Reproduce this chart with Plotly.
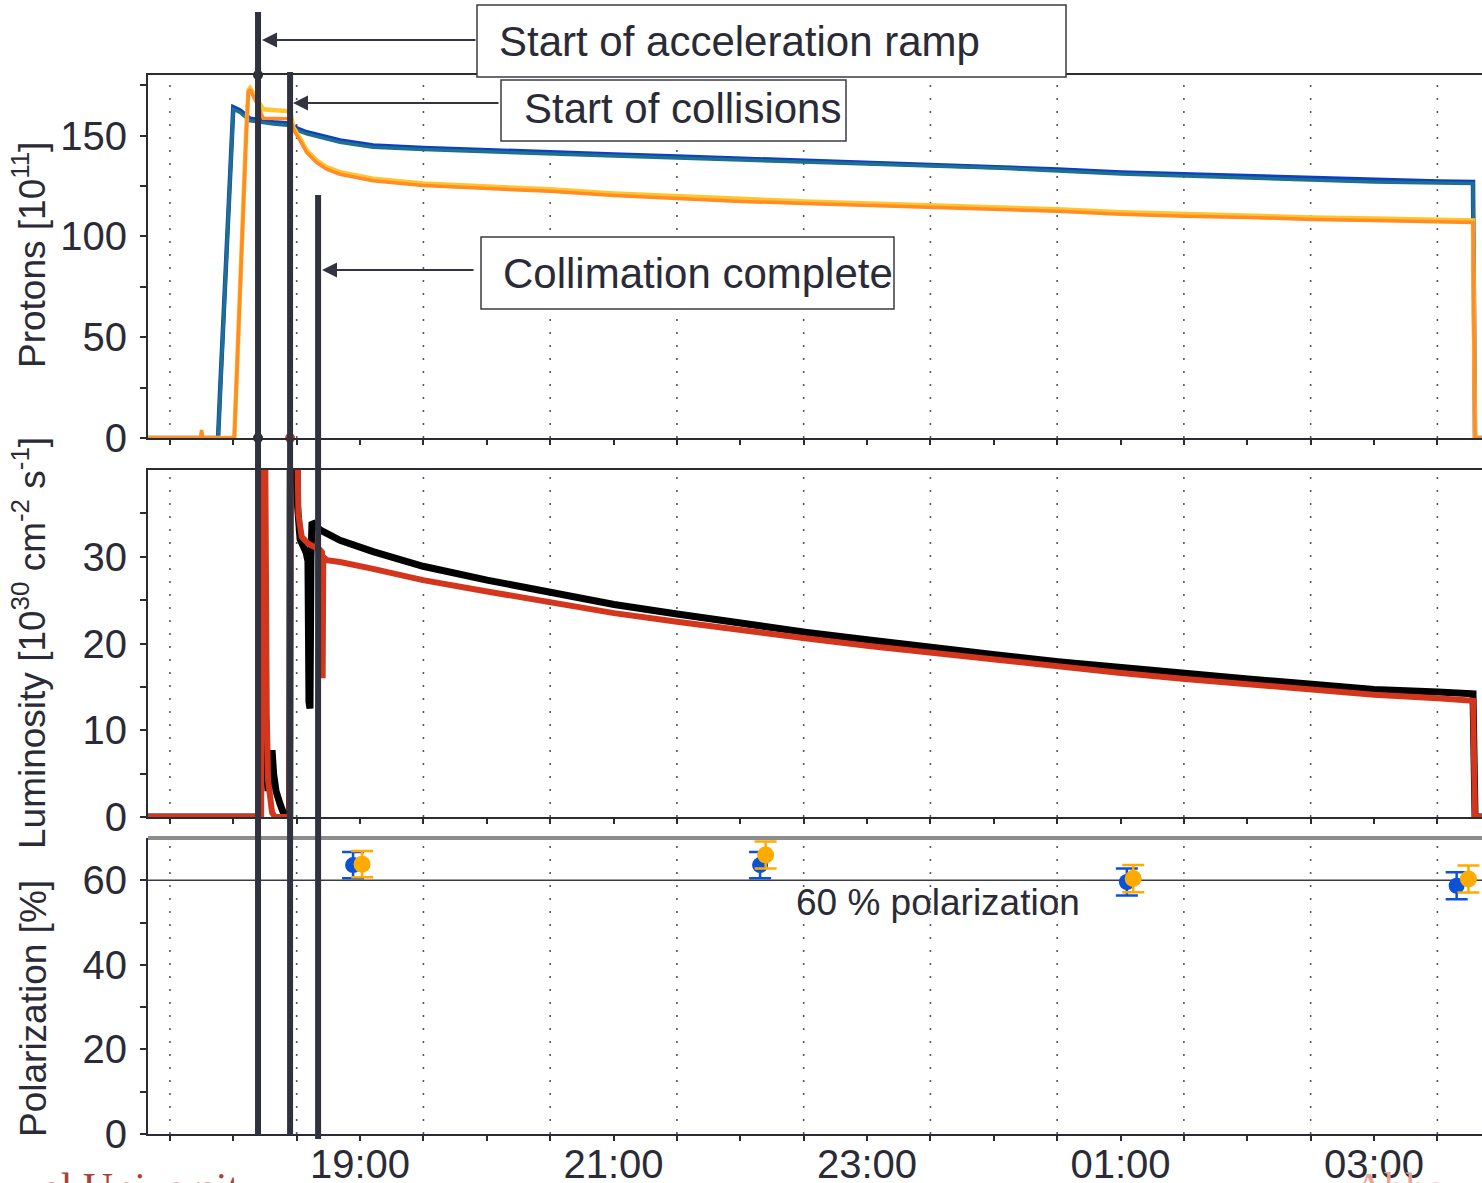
import plotly.graph_objects as go

# ---------------- data (time in decimal hours; >24 means after midnight) ----------------
t_blue = [17.327, 17.880, 17.895, 17.935, 17.961, 17.988, 18.000, 18.053, 18.132, 18.316,
          18.448, 18.500, 18.579, 18.842, 19.103, 19.497, 20.002, 20.499, 21.004, 21.501,
          22.006, 22.511, 23.016, 23.505, 24.010, 24.507, 25.004, 25.509, 26.006, 26.511,
          27.000, 27.505, 27.781, 27.797, 27.852]
prot_blue = [0, 0, 22, 72, 113, 149, 164, 162.4, 158.3, 156.6,
             155.8, 153.5, 151.6, 147.5, 145.0, 143.8, 142.6, 141.6, 140.6, 139.6,
             138.6, 137.6, 136.6, 135.6, 134.7, 133.2, 131.7, 130.7, 129.7, 128.7,
             127.7, 127.2, 127.0, 0, 0]
prot_teal = [0, 0, 20, 70, 111, 147, 163, 161.4, 157.3, 155.7,
             155.0, 152.6, 150.8, 146.7, 144.2, 143.0, 141.8, 140.8, 139.8, 138.8,
             137.8, 136.8, 135.8, 134.8, 133.9, 132.4, 130.9, 129.9, 128.9, 127.9,
             126.9, 126.4, 126.2, 0, 0]

t_orange = [17.327, 17.740, 17.750, 17.760, 18.008, 18.027, 18.053, 18.079, 18.101, 18.119,
            18.132, 18.185, 18.237, 18.448, 18.474, 18.527, 18.579, 18.658, 18.737, 18.842,
            18.974, 19.103, 19.497, 20.002, 20.499, 21.004, 21.501, 22.006, 22.511, 23.016,
            23.505, 24.010, 24.507, 25.004, 25.509, 26.006, 26.511, 27.000, 27.505, 27.781,
            27.797, 27.852]
prot_orange = [0, 0, 4, 0, 0, 30, 72, 121, 149, 171.4,
               172.8, 166, 158.5, 158.3, 153, 147.5, 141.6, 136.6, 133.3, 130.8,
               129.2, 127.6, 125.2, 123.8, 122.3, 120.3, 118.8, 117.3, 116.3, 115.3,
               114.4, 113.4, 112.4, 110.9, 109.9, 109.4, 108.4, 107.9, 107.4, 106.9,
               0, 0]
prot_yellow = [0, 0, 0, 0, 0, 31, 74, 123, 151, 172.5,
               173.5, 168, 163, 162, 154, 148.4, 142.6, 137.6, 134.3, 131.8,
               130.2, 128.6, 126.2, 124.8, 123.3, 121.3, 119.8, 118.3, 117.3, 116.3,
               115.4, 114.4, 113.4, 111.9, 110.9, 110.4, 109.4, 108.9, 108.4, 107.9,
               0, 0]

t_lumi_black = [17.327, 18.215, 18.219, 18.231, 18.239, 18.258, 18.274, 18.290, 18.306, 18.318,
                18.337, 18.369, 18.400, 18.424, 18.445, 18.450, 18.497, 18.506, 18.515, 18.527,
                18.574, 18.589, 18.597, 18.605, 18.613, 18.621, 18.684, 18.842, 19.103, 19.497,
                20.002, 20.499, 21.004, 21.501, 22.006, 22.511, 23.016, 23.505, 24.010, 24.507,
                25.004, 25.509, 26.006, 26.511, 27.000, 27.505, 27.781, 27.797, 27.852]
lumi_black = [0, 0, 45, 45, 12, 4, 3, 6, 7.7, 5,
              3, 1.5, 0.3, 0, 0, 50, 50, 36, 33, 32,
              30.5, 29.5, 13.3, 12.5, 30, 34, 33.1, 31.9, 30.6, 28.9,
              27.3, 25.9, 24.5, 23.4, 22.3, 21.3, 20.4, 19.5, 18.7, 17.9,
              17.2, 16.5, 15.9, 15.3, 14.7, 14.4, 14.2, 0, 0]

t_lumi_red = [17.327, 18.219, 18.227, 18.251, 18.264, 18.274, 18.306, 18.330, 18.445, 18.452,
              18.497, 18.504, 18.514, 18.540, 18.592, 18.684, 18.700, 18.705, 18.710, 18.737,
              18.842, 19.103, 19.497, 20.002, 20.499, 21.004, 21.501, 22.006, 22.511, 23.016,
              23.505, 24.010, 24.507, 25.004, 25.509, 26.006, 26.511, 27.000, 27.505, 27.781,
              27.797, 27.852]
lumi_red = [0, 0, 45, 45, 12, 4.3, 0.5, 0, 0, 50,
            50, 36, 34.8, 32.3, 31.5, 30.8, 30.5, 16, 30, 29.6,
            29.4, 28.6, 27.3, 26.0, 24.7, 23.5, 22.5, 21.5, 20.6, 19.7,
            18.9, 18.1, 17.3, 16.6, 15.9, 15.3, 14.7, 14.1, 13.7, 13.4,
            0, 0]

t_pol_blue = [18.945, 22.156, 25.050, 27.652]
pol_blue = [63.6, 63.6, 59.6, 58.7]
err_pol_blue = [3.1, 3.1, 3.2, 3.2]
t_pol_orange = [19.016, 22.200, 25.100, 27.745]
pol_orange = [63.8, 66.0, 60.4, 60.3]
err_pol_orange = [3.1, 3.2, 3.2, 3.2]

event_t = [18.195, 18.448, 18.669]          # acceleration ramp, collisions, collimation
event_labels = ["Start of acceleration ramp", "Start of collisions", "Collimation complete"]
pol_ref = 60
footer_left = "al University"
footer_right = "Abhay"

x_range = [17.327, 27.852]
half_hours = [17.5, 18.0, 18.5, 19.0, 19.5, 20.0, 20.5, 21.0, 21.5, 22.0, 22.5,
              23.0, 23.5, 24.0, 24.5, 25.0, 25.5, 26.0, 26.5, 27.0, 27.5]
grid_t = [17.5, 18.5, 19.5, 20.5, 21.5, 22.5, 23.5, 24.5, 25.5, 26.5, 27.5]
time_labels = {19.0: "19:00", 21.0: "21:00", 23.0: "23:00", 25.0: "01:00", 27.0: "03:00"}

# ---------------- styling ----------------
FONT = "Liberation Sans, Arial, Helvetica, sans-serif"
SERIF = "Liberation Serif, Times New Roman, serif"
INK = "#2a2b36"
LINE = "#2b2b33"
EV = "#30323f"

fig = go.Figure()

def tr(x, y, color, width, xa, ya):
    fig.add_trace(go.Scatter(x=x, y=y, mode="lines", line=dict(color=color, width=width),
                             xaxis=xa, yaxis=ya, showlegend=False, hoverinfo="skip"))

tr(t_blue, prot_blue, "#0b3fc4", 4.5, "x", "y")
tr(t_blue, prot_teal, "#1f6f90", 3.5, "x", "y")
tr(t_orange, prot_yellow, "#ffc42e", 4.5, "x", "y")
tr(t_orange, prot_orange, "#ff8c24", 3.5, "x", "y")

tr(t_lumi_black, lumi_black, "#000000", 7, "x2", "y2")
tr(t_lumi_red, lumi_red, "#d3361c", 6, "x2", "y2")

fig.add_trace(go.Scatter(x=t_pol_blue, y=pol_blue, mode="markers",
                         marker=dict(color="#0a52d6", size=16),
                         error_y=dict(type="data", array=err_pol_blue, color="#0a52d6", thickness=2.5, width=11),
                         xaxis="x3", yaxis="y3", showlegend=False, cliponaxis=False))
fig.add_trace(go.Scatter(x=t_pol_orange, y=pol_orange, mode="markers",
                         marker=dict(color="#ffaa00", size=17),
                         error_y=dict(type="data", array=err_pol_orange, color="#ffaa00", thickness=2.5, width=11),
                         xaxis="x3", yaxis="y3", showlegend=False, cliponaxis=False))

# markers where event lines meet the proton frame
fig.add_trace(go.Scatter(x=[event_t[0], event_t[0]], y=[180, 0], mode="markers",
                         marker=dict(color="#2a2a30", size=10), xaxis="x", yaxis="y",
                         showlegend=False, cliponaxis=False))
fig.add_trace(go.Scatter(x=[event_t[1], event_t[1]], y=[180.7, 0], mode="markers",
                         marker=dict(color="#d3361c", size=10), xaxis="x", yaxis="y",
                         showlegend=False, cliponaxis=False))

PH = 1134.0  # plot-area height in px (paper units)
def py(px):
    return 1 - px / PH
def px_x(px):
    return (px - 148) / 1334.0

tickfont = dict(family=FONT, size=40, color=INK)
xbase = dict(range=x_range, showline=True, linecolor=LINE, linewidth=2, ticks="outside",
             ticklen=5, tickwidth=2, tickcolor=LINE, tickmode="array", tickvals=half_hours,
             showgrid=False, zeroline=False, automargin=False, mirror=True, tickfont=tickfont)
xover = dict(range=x_range, showline=False, ticks="inside", ticklen=5, tickwidth=2, tickcolor=LINE,
             tickmode="array", tickvals=half_hours, showticklabels=False, showgrid=False,
             zeroline=False, automargin=False)
ybase = dict(showline=True, linecolor=LINE, linewidth=2, ticks="outside", ticklen=6, tickwidth=2,
             tickcolor=LINE, tickmode="array", showgrid=False, zeroline=False, automargin=False,
             tickfont=tickfont, ticklabelstandoff=5)

fig.update_layout(
    width=1482, height=1183,
    margin=dict(l=148, r=0, t=0, b=49),
    paper_bgcolor="white", plot_bgcolor="white",
    font=dict(family=FONT, color=INK),
    xaxis=dict(xbase, anchor="y", showticklabels=False),
    xaxis2=dict(xbase, anchor="y2", showticklabels=False),
    xaxis3=dict(xbase, anchor="y3", mirror=False,
                ticktext=[time_labels.get(h, "") for h in half_hours], ticklabelstandoff=-11),
    xaxis4=dict(xover, anchor="y", overlaying="x"),
    xaxis5=dict(xover, anchor="y2", overlaying="x2"),
    xaxis6=dict(xover, anchor="y3", overlaying="x3"),
    yaxis=dict(ybase, anchor="x", domain=[py(438), py(75)], range=[0, 180],
               tickvals=[0, 25, 50, 75, 100, 125, 150, 175],
               ticktext=["0", "", "50", "", "100", "", "150", ""]),
    yaxis2=dict(ybase, anchor="x2", domain=[py(817), py(470)], range=[0, 40],
                tickvals=[0, 5, 10, 15, 20, 25, 30, 35],
                ticktext=["0", "", "10", "", "20", "", "30", ""]),
    yaxis3=dict(ybase, anchor="x3", domain=[0, py(838)], range=[0, 70],
                tickvals=[0, 10, 20, 30, 40, 50, 60],
                ticktext=["0", "", "20", "", "40", "", "60"]),
)

shapes = []
# dotted vertical gridlines
for ax in ["", "2", "3"]:
    for g in grid_t:
        shapes.append(dict(type="line", xref="x" + ax, yref=("y" + ax) + " domain",
                           x0=g, x1=g, y0=0, y1=1, layer="below",
                           line=dict(color="#555560", width=1.6, dash="2px,11px")))
# 60 % reference line
shapes.append(dict(type="line", xref="x3 domain", yref="y3", x0=0, x1=1, y0=pol_ref, y1=pol_ref,
                   layer="below", line=dict(color="#3a3b46", width=1.5)))
# grey top border of polarisation panel
shapes.append(dict(type="line", xref="x3 domain", yref="y3 domain", x0=0, x1=1, y0=1, y1=1,
                   line=dict(color="#8c8c8c", width=4)))
# event lines
ev_tops = [py(12), py(72), py(195)]
ev_bottoms = [py(1135), py(1135), py(1139)]
for t, y1, y0 in zip(event_t, ev_tops, ev_bottoms):
    shapes.append(dict(type="line", xref="x", yref="paper", x0=t, x1=t, y0=y0, y1=y1,
                       layer="above", line=dict(color=EV, width=6)))
# label boxes
boxes = [(477, 1066, 5, 77), (501, 846, 80, 141), (481, 894, 237, 309)]
for x0, x1, y0, y1 in boxes:
    shapes.append(dict(type="rect", xref="paper", yref="paper",
                       x0=px_x(x0), x1=px_x(x1), y0=py(y1), y1=py(y0), layer="above",
                       fillcolor="white", line=dict(color="#3a3b46", width=1.5)))
fig.update_layout(shapes=shapes)

ann = []
label_pos = [(497, 42), (522, 108), (501, 274)]
for (lx, ly), txt in zip(label_pos, event_labels):
    ann.append(dict(xref="paper", yref="paper", x=px_x(lx), y=py(ly), xanchor="left", yanchor="middle",
                    text=txt, showarrow=False, font=dict(family=FONT, size=42, color=INK)))
arrows = [(262, 40, 477), (293, 103, 500), (322, 270, 475)]
for hx, hy, tx in arrows:
    ann.append(dict(xref="paper", yref="paper", x=px_x(hx), y=py(hy), ax=tx - hx, ay=0,
                    text="", showarrow=True, arrowhead=2, arrowsize=1.5, arrowwidth=2,
                    arrowcolor="#33343f"))
ann.append(dict(xref="paper", yref="paper", x=px_x(938), y=py(902), xanchor="center", yanchor="middle",
                text="60 % polarization", showarrow=False, font=dict(family=FONT, size=37, color=INK)))
titles = [("Protons [10<sup>11</sup>]", 255, 29),
          ("Luminosity [10<sup>30</sup> cm<sup>-2</sup> s<sup>-1</sup>]", 643, 29),
          ("Polarization [%]", 1008, 33)]
for txt, cy, cx in titles:
    ann.append(dict(xref="paper", yref="paper", x=px_x(cx), y=py(cy), text=txt, textangle=-90,
                    showarrow=False, xanchor="center", yanchor="middle",
                    font=dict(family=FONT, size=37, color=INK)))
# slide footer fragments visible at the bottom edge
ann.append(dict(xref="paper", yref="paper", x=px_x(40), y=py(1163), xanchor="left", yanchor="top",
                text=footer_left, showarrow=False, font=dict(family=SERIF, size=42, color="#a8423a")))
ann.append(dict(xref="paper", yref="paper", x=px_x(1352), y=py(1163), xanchor="left", yanchor="top",
                text=footer_right, showarrow=False, font=dict(family=SERIF, size=42, color="#e6a496")))
fig.update_layout(annotations=ann)

fig.write_html("out.html")
